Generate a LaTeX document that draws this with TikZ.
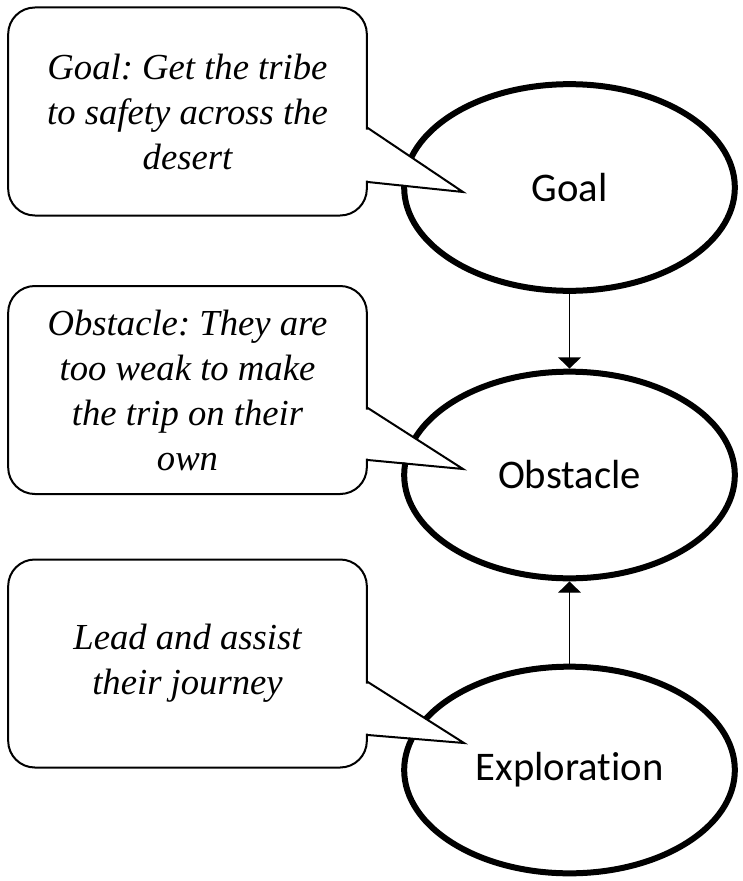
\documentclass[tikz,border=0pt]{standalone}
\usepackage{fontspec}
\setmainfont{Liberation Serif}
\newfontfamily\labelfont[Ligatures=NoCommon]{Carlito}
\usetikzlibrary{shapes.geometric,arrows.meta}
\frenchspacing

\tikzset{
  stage/.style={ellipse, draw=black, line width=4.5pt, fill=white,
    minimum width=248pt, minimum height=155pt, inner sep=0pt,
    font=\labelfont\fontsize{30.5}{36}\selectfont},
  notebox/.style={rectangle, draw=black, line width=1.5pt, fill=white,
    rounded corners=20pt, minimum width=269pt, minimum height=156pt,
    inner sep=0pt, align=center,
    font=\itshape\fontsize{27.5}{33.75}\selectfont},
  pointer/.style={draw=black, line width=1.5pt, line join=miter},
  pointerfill/.style={fill=white, draw=none},
  link/.style={draw=black, line width=1pt,
    -{Triangle[length=8.5pt, width=17pt]}},
}

\begin{document}
\begin{tikzpicture}[x=0.75pt, y=-0.75pt]
\useasboundingbox (0,0) rectangle (742,881);

% the three stages
\node[stage] (goal) at (569.5,187.5) {Goal};
\node[stage] (obstacle) at (569.5,475) {Obstacle};
\node[stage] (exploration) at (569.5,770) {Exploration};

% connectors between the stages
\draw[link] (goal.south) -- (obstacle.north);
\draw[link] (exploration.north) -- (obstacle.south);

% speech boxes
\node[notebox] (goalnote) at (187.5,111.5)
  {Goal: Get the tribe\\to safety across the\\desert};
\node[notebox] (obstaclenote) at (187.5,390)
  {Obstacle: They are\\too weak to make\\the trip on their\\own};
\node[notebox] (explorationnote) at (187.5,663.5)
  {Lead and assist\\their journey};

% pointer tips
\coordinate (goaltip) at (463,192);
\coordinate (obstacletip) at (463,469);
\coordinate (explorationtip) at (464,743);

% pointers: white wedge over the box edge, then its two sides
\fill[pointerfill] (goalnote.east |- 0,129.5) -- (goaltip) -- (goalnote.east |- 0,180.5) -- ++(-3,0) -- ++(0,-51) -- cycle;
\draw[pointer] (goalnote.east |- 0,128) -- (goaltip) -- (goalnote.east |- 0,182);

\fill[pointerfill] (obstaclenote.east |- 0,409.5) -- (obstacletip) -- (obstaclenote.east |- 0,458.5) -- ++(-3,0) -- ++(0,-49) -- cycle;
\draw[pointer] (obstaclenote.east |- 0,408) -- (obstacletip) -- (obstaclenote.east |- 0,460);

\fill[pointerfill] (explorationnote.east |- 0,683.5) -- (explorationtip) -- (explorationnote.east |- 0,733.5) -- ++(-3,0) -- ++(0,-50) -- cycle;
\draw[pointer] (explorationnote.east |- 0,682) -- (explorationtip) -- (explorationnote.east |- 0,735);
\end{tikzpicture}
\end{document}
